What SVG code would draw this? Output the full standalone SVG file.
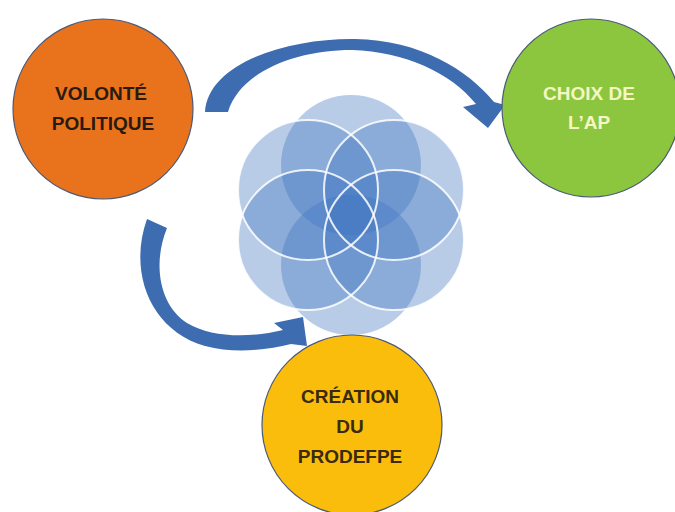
<svg xmlns="http://www.w3.org/2000/svg" width="675" height="512" viewBox="0 0 675 512">
<style>
.petal{fill:#3f74c0;fill-opacity:0.37}
.ring{fill:none;stroke:#ffffff;stroke-width:2;stroke-opacity:0.85}
.node{stroke:#4b5a7a;stroke-width:1.2}
.lbl{font-family:"Liberation Sans",Arial,sans-serif;font-weight:bold;font-size:19px;text-anchor:middle}
.arrow{fill:#3d6db0}
</style>
<rect width="675" height="512" fill="#ffffff"/>
<g id="flower">
<circle class="petal" cx="351" cy="165" r="70"/>
<circle class="petal" cx="394" cy="190" r="70"/>
<circle class="petal" cx="394" cy="240" r="70"/>
<circle class="petal" cx="351" cy="265" r="70"/>
<circle class="petal" cx="308" cy="240" r="70"/>
<circle class="petal" cx="308" cy="190" r="70"/>
<circle class="ring" cx="394" cy="190" r="70"/>
<circle class="ring" cx="394" cy="240" r="70"/>
<circle class="ring" cx="308" cy="240" r="70"/>
<circle class="ring" cx="308" cy="190" r="70"/>
</g>
<g id="connectors">
<path class="arrow" d="M205,112 C208,62 290,38 355,39 C420,40 468,70 494,102 L505,105 L488,128 L463,107 L476,104 C450,72 405,52 352,50 C295,50 240,72 228,112 Z"/>
<path class="arrow" d="M147,219 C128,272 150,330 205,346 C235,354 266,350 291,344 L307,346 L303,317 L274,323 L283,330 C250,338 212,338 187,323 C160,306 152,265 167,228 Z"/>
</g>
<g id="volonte">
<circle class="node" cx="103" cy="109" r="90" fill="#e8731c"/>
<text class="lbl" fill="#2b1a10" x="101" y="100">VOLONTÉ</text>
<text class="lbl" fill="#2b1a10" x="103" y="130">POLITIQUE</text>
</g>
<g id="choix">
<circle class="node" cx="591" cy="108" r="89" fill="#8cc63f"/>
<text class="lbl" fill="#f4f6c4" x="589" y="100">CHOIX DE</text>
<text class="lbl" fill="#f4f6c4" x="589" y="129">L’AP</text>
</g>
<g id="creation">
<circle class="node" cx="352" cy="425" r="90" fill="#fbbd0c"/>
<text class="lbl" fill="#3a2a10" x="350" y="403">CRÉATION</text>
<text class="lbl" fill="#3a2a10" x="350" y="433">DU</text>
<text class="lbl" fill="#3a2a10" x="350" y="463">PRODEFPE</text>
</g>
</svg>
